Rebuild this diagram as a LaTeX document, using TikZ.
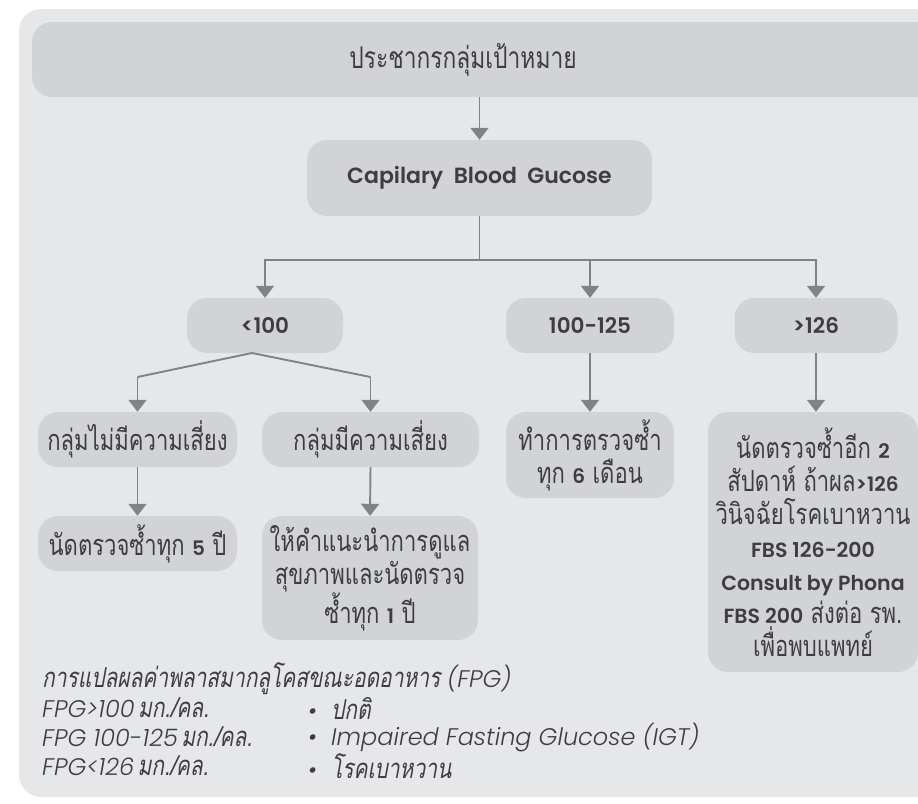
\documentclass[tikz,border=0pt]{standalone}
\usepackage{fontspec}
\usetikzlibrary{arrows.meta}

% fonts: Thai text, bold Latin figures, light italic legend
\newfontfamily\thaiF[Script=Thai,FakeStretch=0.76]{Loma}
\newfontfamily\thaiIt[Script=Thai,FakeStretch=0.76,FakeSlant=0.18]{Loma}
\newfontfamily\latB{Poppins SemiBold}
\newfontfamily\latIt{Poppins Light Italic}

\definecolor{bgG}{HTML}{E6E7E8}
\definecolor{boxG}{HTML}{D1D3D4}
\definecolor{arrG}{HTML}{808285}
\definecolor{txtG}{HTML}{3E3E40}

% bold Latin figures set inside Thai lines
\newcommand\numB[1]{{\latB\fontsize{20}{20}\selectfont #1}}
\newcommand\latLine[1]{{\latB\fontsize{20.5}{33}\selectfont #1}}
\newcommand\legLat[1]{{\latIt\fontsize{24}{28}\selectfont #1}}
\newcommand\legThai[1]{{\thaiIt\fontsize{27.5}{28}\selectfont #1}}

\tikzset{
  box/.style={fill=boxG, rounded corners=20pt, inner sep=0pt, text=txtG, align=center},
  thaitext/.style={font=\thaiF\fontsize{29}{33}\selectfont},
  lattext/.style={font=\latB\fontsize{21.5}{33}\selectfont},
  link/.style={draw=arrG, line width=1.9pt},
  arr/.style={link, -{Triangle[width=18pt,length=12pt]}},
  legend/.style={inner sep=0pt, text=txtG, anchor=west},
}

\begin{document}
\begin{tikzpicture}[x=1pt,y=-1pt]
\useasboundingbox (0,0) rectangle (918,803);
\clip (0,0) rectangle (918,803);

% panel
\fill[bgG, rounded corners=22pt] (19,9) rectangle (960,797);

% title band
\node[box, minimum width=928pt, minimum height=75pt] (topbox) at (496,59.5) {};
\node[text=txtG, font=\thaiF\fontsize{30}{33}\selectfont] (toptext) at (463,60) {ประชากรกลุ่มเป้าหมาย};

% test
\node[box, font=\latB\fontsize{22}{33}\selectfont, minimum width=345pt, minimum height=76pt] (cbg) at (479.5,178)
  {Capilary\ \ Blood\ \ Gucose};

% ranges
\node[box, lattext, minimum width=156pt, minimum height=55pt] (low) at (265,325.5) {<100};
\node[box, lattext, minimum width=168pt, minimum height=55pt] (mid) at (590,325.5) {100-125};
\node[box, lattext, minimum width=163pt, minimum height=55pt] (high) at (816,325.5) {>126};

% second level
\node[box, thaitext, minimum width=199pt, minimum height=55pt] (norisk) at (137.5,439.5) {กลุ่มไม่มีความเสี่ยง};
\node[box, thaitext, minimum width=217pt, minimum height=55pt] (risk) at (370.5,439.5) {กลุ่มมีความเสี่ยง};
\node[box, thaitext, minimum width=168pt, minimum height=86pt] (recheck) at (590,455)
  {ทำการตรวจซ้ำ\\ทุก \numB{6} เดือน};
\node[box, thaitext, minimum width=210pt, minimum height=260pt] (diag) at (813,542)
  {นัดตรวจซ้ำอีก \numB{2}\\
   สัปดาห์ ถ้าผล\numB{>126}\\
   วินิจฉัยโรคเบาหวาน\\
   \latLine{FBS\ 126-200}\\
   \latLine{Consult by Phona}\\
   \latLine{FBS\ 200} ส่งต่อ รพ.\\
   เพื่อพบแพทย์};

% third level
\node[box, thaitext, minimum width=199pt, minimum height=55pt] (five) at (137.5,543.5) {นัดตรวจซ้ำทุก \numB{5} ปี};
\node[box, thaitext, minimum width=216pt, minimum height=124pt] (advice) at (370,578)
  {ให้คำแนะนำการดูแล\\สุขภาพและนัดตรวจ\\ซ้ำทุก \numB{1} ปี};

% connectors
\draw[arr] (topbox.south -| cbg.north) -- (cbg.north);
\coordinate (fork) at (479.5,260);
\draw[link] (cbg.south) -- (fork);
\draw[arr] (fork) -| (low.north);
\draw[arr] (fork) -| (mid.north);
\draw[arr] (fork) -| (high.north);

\coordinate (split) at (252,353);
\coordinate (elbowL) at (137.5,377);
\coordinate (elbowR) at (370.5,377);
\draw[link] (split) -- (elbowL);
\draw[link] (split) -- (elbowR);
\draw[arr] (elbowL) -- (norisk.north);
\draw[arr] (elbowR) -- (risk.north);
\draw[arr] (mid.south) -- (recheck.north);
\draw[arr] (high.south) -- (high.south |- diag.north);
\draw[arr] (norisk.south) -- (five.north);
\draw[arr] (risk.south) -- (advice.north);

% legend
\node[legend] (lg0) at (42,679) {\legThai{การแปลผลค่าพลาสมากลูโคสขณะอดอาหาร}\hspace{7pt}\legLat{(FPG)}};
\node[legend] (lg1) at (42,708) {\legLat{FPG>100} \legThai{มก./คล.}};
\node[legend] (lg2) at (42,737) {\legLat{FPG 100-125} \legThai{มก./คล.}};
\node[legend] (lg3) at (42,766) {\legLat{FPG<126} \legThai{มก./คล.}};
\node[legend] (lb1) at (308,708) {\legLat{•\ \ }\legThai{ปกติ}};
\node[legend] (lb2) at (308,737) {\legLat{•\ \ Impaired Fasting Glucose (IGT)}};
\node[legend] (lb3) at (308,766) {\legLat{•\ \ }\legThai{โรคเบาหวาน}};
\end{tikzpicture}
\end{document}
